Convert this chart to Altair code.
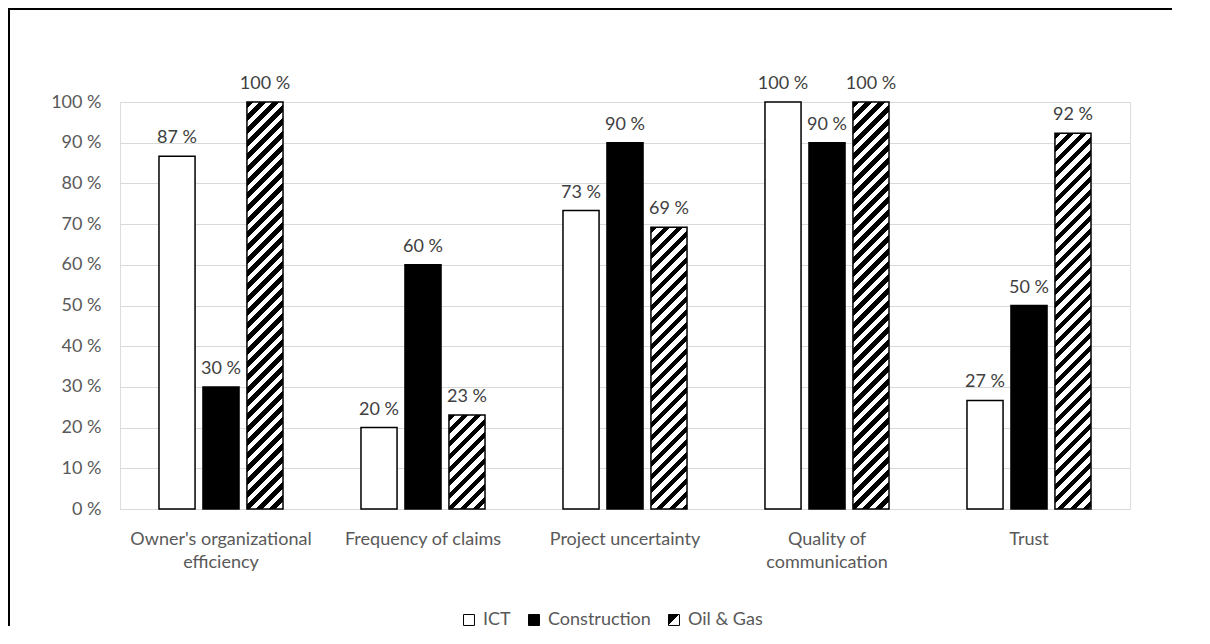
import altair as alt
import pandas as pd

# ---------------- data ----------------
categories = [
    "Owner's organizational efficiency",
    "Frequency of claims",
    "Project uncertainty",
    "Quality of communication",
    "Trust",
]
series = ["ICT", "Construction", "Oil & Gas"]
ict = [86.67, 20.0, 73.33, 100.0, 26.67]
construction = [30.0, 60.0, 90.0, 90.0, 50.0]
oil_gas = [100.0, 23.08, 69.23, 100.0, 92.31]
y_ticks = [0, 10, 20, 30, 40, 50, 60, 70, 80, 90, 100]
label_lines = {
    "Owner's organizational efficiency": ["Owner's organizational", "efficiency"],
    "Quality of communication": ["Quality of", "communication"],
}

rows = []
for s, vals in zip(series, [ict, construction, oil_gas]):
    for c, v in zip(categories, vals):
        rows.append({"Category": c, "Series": s, "Value": v})
df = pd.DataFrame(rows)

# ---------------- layout ----------------
W, H = 1010, 407
PAD = {"left": 112, "top": 94, "right": 72, "bottom": 121}
X_PI, X_PO = 0.386, 0.193
O_PI = 0.18
FONT = "Lato"
FS = 18
TXT = "#595959"

step = W / (len(categories) - X_PI + 2 * X_PO)
group_bw = step * (1 - X_PI)
bar_w = group_bw / (len(series) - O_PI) * (1 - O_PI)


def hatch(bw, bh, period=13.0, frac=0.5):
    L = bw + bh
    s = L / (bw * bw + bh * bh)
    p = period / L
    stops = []
    t = 0.0
    while t < 1:
        b = min(t + p * frac, 1)
        c = min(t + p, 1)
        stops += [
            {"offset": round(t, 5), "color": "black"},
            {"offset": round(b, 5), "color": "black"},
            {"offset": round(b, 5), "color": "white"},
            {"offset": round(c, 5), "color": "white"},
        ]
        t += p
    return {"gradient": "linear", "x1": 0, "y1": 0,
            "x2": round(bw * s, 5), "y2": round(bh * s, 5), "stops": stops}


legend_grad = ("{gradient: 'linear', x1: 0, y1: 0, x2: 1, y2: 1, stops: ["
               "{offset: 0, color: 'black'}, {offset: 0.5, color: 'black'}, "
               "{offset: 0.5, color: 'white'}, {offset: 1, color: 'white'}]}")

# x label expression (multi-line)
expr_parts = []
for k, lines in label_lines.items():
    arr = "[" + ", ".join('"' + l + '"' for l in lines) + "]"
    expr_parts.append(f'datum.value == "{k}" ? {arr} : ')
x_label_expr = "".join(expr_parts) + "datum.value"

x_enc = alt.X(
    "Category:N", sort=categories,
    scale=alt.Scale(paddingInner=X_PI, paddingOuter=X_PO),
    axis=alt.Axis(title=None, labelAngle=0, ticks=False, domain=True,
                  domainColor="#d9d9d9", labelPadding=21, labelLineHeight=23,
                  labelLimit=0, labelExpr=x_label_expr, labelFontSize=FS,
                  labelColor=TXT, labelFont=FONT),
)
xo_enc = alt.XOffset("Series:N", sort=series,
                     scale=alt.Scale(domain=series, paddingInner=O_PI, paddingOuter=0))
y_enc = alt.Y(
    "Value:Q", scale=alt.Scale(domain=[0, 100], nice=False),
    axis=alt.Axis(title=None, values=y_ticks, labelExpr="datum.value + ' %'",
                  grid=True, gridColor="#d9d9d9", domain=False, ticks=False,
                  labelPadding=19, labelFontSize=FS, labelColor=TXT, labelFont=FONT),
)

base = alt.Chart(df)

# chart frame (top and left edges), drawn as thin filled strips
one = pd.DataFrame({"a": [0]})
frame_left = alt.Chart(one).mark_rect(color="black").encode(
    x=alt.value(-PAD["left"]), x2=alt.value(-PAD["left"] + 2),
    y=alt.value(-PAD["top"]), y2=alt.value(H + PAD["bottom"] - 4),
)
frame_top = alt.Chart(one).mark_rect(color="black").encode(
    x=alt.value(-PAD["left"]), x2=alt.value(W + PAD["right"] - 30),
    y=alt.value(-PAD["top"]), y2=alt.value(-PAD["top"] + 2),
)

solid = base.transform_filter(
    alt.FieldOneOfPredicate(field="Series", oneOf=["ICT", "Construction"])
).mark_bar(stroke="black", strokeWidth=1.5).encode(
    x=x_enc, xOffset=xo_enc, y=y_enc,
    fill=alt.Fill(
        "Series:N",
        scale=alt.Scale(domain=series, range=["white", "black", {"expr": legend_grad}]),
        legend=alt.Legend(
            title=None, orient="none", direction="horizontal",
            legendX=340, legendY=509, symbolType="square", symbolSize=120,
            symbolStrokeColor="black", symbolStrokeWidth=1, labelFontSize=FS,
            labelColor=TXT, labelFont=FONT, columnPadding=14, labelOffset=5,
        ),
    ),
)

layers = [frame_left, frame_top, solid]
for c, v in zip(categories, oil_gas):
    bh = v / 100.0 * H
    layers.append(
        base.transform_filter(alt.FieldEqualPredicate(field="Series", equal="Oil & Gas"))
        .transform_filter(alt.FieldEqualPredicate(field="Category", equal=c))
        .mark_bar(fill=hatch(bar_w, bh), stroke="black", strokeWidth=1.5)
        .encode(x=x_enc, xOffset=xo_enc, y=y_enc)
    )

labels = base.transform_calculate(
    label="format(datum.Value, '.0f') + ' %'"
).mark_text(baseline="bottom", dy=-9, fontSize=FS, color="#404040", font=FONT).encode(
    x=x_enc, xOffset=xo_enc, y=y_enc, text="label:N"
)
layers.append(labels)

chart = alt.layer(*layers).properties(
    width=W, height=H,
    autosize=alt.AutoSizeParams(type="none"),
    padding=PAD,
    background="white",
).configure_view(stroke=None).configure(font=FONT)

chart.save("out.html", embed_options={"renderer": "svg", "actions": False})
